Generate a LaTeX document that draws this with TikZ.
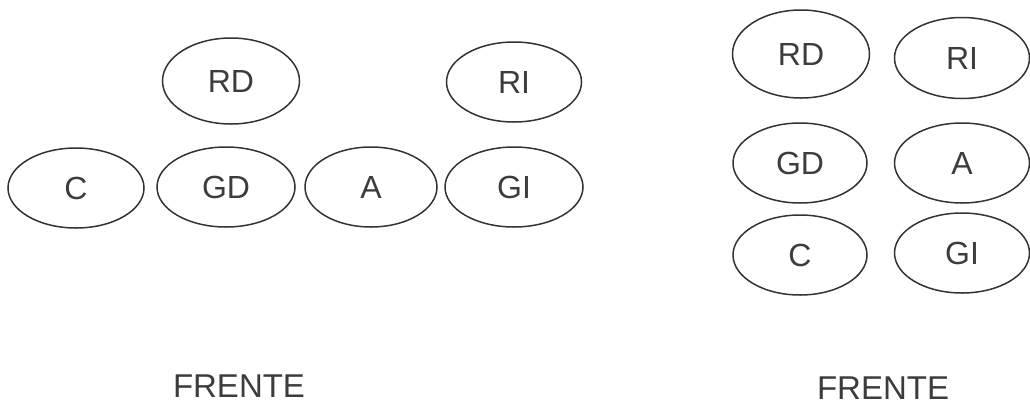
\documentclass[tikz,border=0pt]{standalone}
\usepackage{fontspec}
\setmainfont{Liberation Sans}
\usetikzlibrary{shapes.geometric}
\definecolor{inkline}{HTML}{333333}
\definecolor{inktext}{HTML}{3C3C3C}
\tikzset{
  player/.style={ellipse, draw=inkline, line width=1.5pt, inner sep=0pt,
    text=inktext, font=\fontsize{32}{36}\selectfont},
  pw/.style={minimum width=#1pt},
  ph/.style={minimum height=#1pt},
  caption/.style={text=inktext, font=\fontsize{33}{38}\selectfont, inner sep=0pt, anchor=base}
}
\begin{document}
\begin{tikzpicture}[x=1pt,y=-1pt]
\useasboundingbox (0,0) rectangle (1030,405);
% left formation
\node[player,pw=137,ph=86] (lRD) at (231,81) {RD};
\node[player,pw=135,ph=80] (lRI) at (514,82) {RI};
\node[player,pw=136,ph=80] (lC) at (76,188) {C};
\node[player,pw=138,ph=80] (lGD) at (226,187) {GD};
\node[player,pw=132,ph=80] (lA) at (371,187) {A};
\node[player,pw=138,ph=80] (lGI) at (514,187) {GI};
\node[caption] (lF) at (239,397) {FRENTE};
% right formation
\node[player,pw=137,ph=88] (rRD) at (801,54) {RD};
\node[player,pw=135,ph=81] (rRI) at (962,58) {RI};
\node[player,pw=134,ph=80] (rGD) at (800,163) {GD};
\node[player,pw=135,ph=80] (rA) at (962,163) {A};
\node[player,pw=134,ph=80] (rC) at (800,255) {C};
\node[player,pw=135,ph=80] (rGI) at (962,253) {GI};
\node[caption] (rF) at (883,399) {FRENTE};
\end{tikzpicture}
\end{document}
